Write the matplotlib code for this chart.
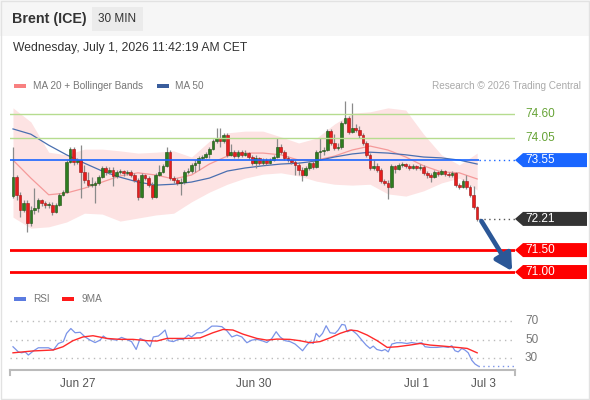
import matplotlib
matplotlib.use("Agg")
import matplotlib.pyplot as plt
import matplotlib.transforms as mtransforms
from matplotlib.patches import Polygon, Rectangle
import numpy as np

plt.rcParams['font.family'] = ['Liberation Sans', 'DejaVu Sans']

# 30 min candles, open of each bar = previous close
first_open = 72.73
close = [73.16, 72.75, 72.41, 72.57, 72.12, 72.41, 72.46, 72.64, 72.57, 72.53,
         72.53, 72.37, 72.53, 72.75, 72.82, 73.51, 73.80, 73.51, 73.55, 73.28,
         73.10, 72.98, 72.98, 73.03, 73.16, 73.37, 73.28, 73.32, 73.19, 73.28,
         73.30, 73.26, 73.28, 73.21, 73.10, 72.71, 73.21, 73.14, 72.98, 72.71,
         73.21, 73.28, 73.42, 73.73, 73.14, 73.10, 73.03, 73.05, 73.28, 73.30,
         73.44, 73.48, 73.60, 73.62, 73.69, 73.80, 73.98, 74.05, 73.98, 74.12,
         73.67, 73.73, 73.64, 73.73, 73.67, 73.71, 73.62, 73.48, 73.60, 73.48,
         73.55, 73.48, 73.55, 73.62, 73.85, 73.73, 73.60, 73.55, 73.51, 73.44,
         73.32, 73.21, 73.37, 73.48, 73.39, 73.73, 73.76, 73.78, 74.21, 73.94,
         73.83, 73.85, 74.40, 74.51, 74.19, 74.28, 74.24, 74.12, 73.94, 73.67,
         73.37, 73.42, 73.32, 73.07, 73.03, 72.94, 73.42, 73.35, 73.44, 73.46,
         73.42, 73.37, 73.42, 73.37, 73.39, 73.26, 73.21, 73.16, 73.28, 73.23,
         73.30, 73.23, 73.21, 73.26, 72.98, 72.94, 73.07, 72.94, 72.75, 72.48,
         72.21]
high = [73.85, 73.21, 72.82, 72.64, 72.64, 72.50, 72.91, 72.69, 72.66, 72.62,
        72.60, 72.60, 72.57, 72.80, 72.87, 73.55, 73.85, 73.85, 73.60, 73.89,
        73.44, 73.28, 73.16, 73.07, 73.21, 73.42, 73.42, 73.39, 73.39, 73.32,
        73.35, 73.32, 73.32, 73.32, 73.26, 73.14, 73.26, 73.23, 73.19, 73.05,
        73.26, 73.44, 73.46, 73.85, 73.78, 73.19, 73.14, 73.14, 73.32, 73.37,
        73.48, 73.55, 73.64, 73.67, 73.73, 73.85, 74.03, 74.28, 74.28, 74.17,
        74.17, 73.92, 73.78, 73.78, 73.78, 73.78, 73.73, 73.67, 73.67, 73.62,
        73.60, 73.60, 73.60, 73.67, 74.05, 73.92, 73.78, 73.64, 73.57, 73.55,
        73.51, 73.39, 73.42, 73.53, 73.53, 73.78, 74.05, 73.85, 74.26, 74.26,
        74.14, 73.94, 74.44, 74.90, 74.55, 74.85, 74.37, 74.33, 74.17, 73.98,
        73.71, 73.55, 73.48, 73.37, 73.12, 73.10, 73.46, 73.44, 73.48, 73.51,
        73.48, 73.46, 73.46, 73.44, 73.46, 73.44, 73.30, 73.26, 73.32, 73.30,
        73.35, 73.32, 73.28, 73.30, 73.28, 73.03, 73.12, 73.21, 72.98, 72.96,
        72.50]
low = [72.69, 72.64, 72.25, 72.37, 71.91, 72.05, 72.32, 72.37, 72.50, 72.46,
       72.46, 72.30, 72.34, 72.50, 72.73, 72.80, 73.48, 73.44, 73.46, 72.69,
       73.03, 72.94, 72.94, 72.57, 72.98, 73.14, 73.21, 73.23, 72.96, 73.14,
       73.23, 73.19, 73.21, 73.16, 73.05, 72.64, 72.69, 73.10, 72.94, 72.66,
       72.69, 73.19, 73.26, 73.39, 73.10, 73.03, 72.98, 72.75, 73.01, 73.23,
       73.26, 73.28, 73.32, 73.55, 73.60, 73.60, 73.78, 73.94, 73.85, 73.94,
       73.62, 73.64, 73.60, 73.60, 73.62, 73.64, 73.57, 73.44, 73.37, 73.44,
       73.44, 73.44, 73.46, 73.53, 73.60, 73.69, 73.55, 73.51, 73.46, 73.21,
       73.21, 73.07, 73.19, 73.32, 73.35, 73.37, 73.55, 73.67, 73.76, 73.89,
       73.78, 73.78, 73.80, 74.37, 74.14, 74.17, 74.19, 74.05, 73.89, 73.62,
       73.32, 73.32, 73.28, 73.03, 72.98, 72.66, 72.91, 73.26, 73.32, 73.39,
       73.37, 73.32, 73.35, 73.32, 73.32, 73.21, 73.14, 73.05, 73.14, 73.19,
       73.21, 73.19, 73.16, 73.16, 72.94, 72.89, 72.91, 72.89, 72.71, 72.44,
       72.16]

# indicators read every 5 bars
ind_pos = list(range(0, 131, 5))
ma20 = [73.55, 73.14, 72.76, 72.80, 72.91, 73.05, 73.19, 73.26, 73.21, 73.12,
        73.21, 73.46, 73.64, 73.71, 73.71, 73.67, 73.55, 73.55, 73.64, 73.78,
        73.87, 73.78, 73.62, 73.42, 73.28, 73.26, 73.12]
ma50 = [74.26, 74.14, 73.89, 73.67, 73.48, 73.30, 73.16, 73.05, 72.98, 73.00,
        73.05, 73.14, 73.30, 73.37, 73.42, 73.46, 73.48, 73.53, 73.62, 73.69,
        73.73, 73.71, 73.67, 73.62, 73.60, 73.55, 73.46]
bb_up = [74.74, 74.42, 73.73, 73.67, 73.80, 73.80, 73.76, 73.71, 73.73, 73.76,
         73.62, 73.98, 74.17, 74.21, 74.21, 74.08, 73.94, 74.05, 74.37, 74.62,
         74.65, 74.74, 74.69, 74.14, 73.67, 73.44, 73.71]
bb_low = [72.25, 72.00, 72.03, 72.14, 72.34, 72.32, 72.16, 72.23, 72.30, 72.34,
          72.60, 72.82, 73.00, 73.14, 73.23, 73.26, 73.19, 73.07, 73.00, 72.98,
          73.00, 72.78, 72.73, 72.85, 73.03, 73.14, 72.87]

rsi_pos = [0, 1.5, 2.4, 3.4, 4.3, 5.7, 7.1, 8.5, 9.9, 11.3, 12.7, 14.1, 15, 16.2,
           17.4, 18.8, 20.2, 21.6, 23, 24.4, 25.3, 26.2, 27.6, 29, 30.4, 31.8,
           33.2, 34.5, 35.6, 37, 38.4, 39.3, 40.7, 41.6, 42.6, 43.5, 44.9, 46.3,
           47.7, 49.1, 50, 51.5, 52.9, 54.3, 55.7, 57.1, 58.5, 59.9, 61.3, 62.7,
           64.1, 65.5, 66.9, 68.3, 69.7, 71.1, 72.5, 73.7, 74.8, 76.2, 77.6, 79,
           80.4, 81.1, 82.3, 83.2, 84.1, 84.9, 85.8, 86.7, 87.7, 88.8, 90.2, 91.1,
           92.1, 93, 93.6, 94.9, 96.3, 97.7, 98.9, 100, 100.9, 101.9, 103.3,
           104.2, 105.1, 106.1, 107.5, 108.9, 110.3, 111.7, 113.1, 114.5, 115.4,
           116.8, 118.7, 120.5, 121.9, 122.9, 123.8, 124.7, 125.7, 126.6, 127.5,
           128.5, 129.4, 130.3]
rsi = [42.5, 37, 36, 37, 33.6, 38, 41.4, 41.4, 41.4, 39, 46, 48, 56.8, 62,
       57.5, 58, 53, 49.6, 47, 49.6, 54, 51.4, 50.4, 49.6, 52.5, 50.4,
       48, 39.6, 51.4, 49, 42.5, 53, 54, 56.8, 60.4, 49, 48, 50.4,
       50.4, 55, 53, 57.5, 57.5, 60.4, 64.6, 64.6, 64, 59.6, 53, 55,
       53, 46.8, 49.6, 50.4, 49, 47, 51.4, 58.6, 53, 49, 48, 45.4,
       40.7, 38.2, 44.3, 48, 46, 56.8, 53, 56.8, 65, 57.5, 56.8, 60.4,
       66.4, 65.7, 58.6, 60.4, 56, 49.6, 44.3, 40.7, 43.2, 39.6, 38.2,
       39.6, 37, 45.4, 46.8, 46.8, 46, 47, 46, 46.8, 42.5,
       41.8, 41.8, 42.5, 41.8, 43.6, 38.2, 37, 40.7, 38.9, 36,
       28, 24, 21.8]
rsi_ma_pos = [0, 5.6, 11.2, 14, 16.8, 19.6, 22.4, 26.3, 30, 33.6, 37.5, 40.3,
              43.1, 48.7, 52.4, 56, 58.8, 61.6, 64.4, 68.3, 71.1, 73.9, 77.5,
              80.3, 83.2, 86, 88.8, 91.6, 94.4, 96.4, 99.2, 102, 104.8, 107.6,
              111.2, 114, 116.8, 120.4, 124.4, 127.2, 130]
rsi_ma = [36, 38, 39, 42.5, 49, 53, 54.3, 51.4, 50.4, 50.4, 49, 48.6,
          51.4, 51.4, 52, 57.5, 61, 60.4, 56, 51.4, 49.6, 50.7, 50.4,
          49, 46.8, 48, 52, 56.8, 60.4, 59.6, 55, 49, 41.8, 42.5,
          44.3, 46, 44.3, 43.2, 41.8, 40.7, 36]

resist_levels = [74.60, 74.05]
pivot = 73.55
support_levels = [71.50, 71.00]
last_price = 72.21

date_ticks = [18.2, 67.5, 112.9, 131.9]
date_labels = ["Jun 27", "Jun 30", "Jul 1", "Jul 3"]

W, H = 590, 400
fig = plt.figure(figsize=(W / 100, H / 100), dpi=100)
fig.patch.set_facecolor('white')

def fx(px):
    return px / W

def fy(py):
    return 1 - py / H

# header
fig.patches.append(Rectangle((0, fy(36)), 1, 36 / H, transform=fig.transFigure,
                             fc='#f6f6f6', ec='none', zorder=0))
fig.patches.append(Rectangle((fx(92), fy(31)), fx(51), 24 / H, transform=fig.transFigure,
                             fc='#ebebeb', ec='none', zorder=1))
fig.patches.append(Rectangle((0.002, 0.002), 0.996, 0.996, transform=fig.transFigure,
                             fill=False, ec='#e2e2e2', lw=1, zorder=2))
fig.text(fx(12), fy(19), "Brent (ICE)", fontsize=10.3, fontweight='bold', color='#333333', va='center')
fig.text(fx(117.5), fy(19), "30 MIN", fontsize=8.5, color='#333333', va='center', ha='center')
fig.text(fx(13), fy(48), "Wednesday, July 1, 2026 11:42:19 AM CET", fontsize=8.7,
         color='#333333', va='center')

# legends
fig.patches.append(Rectangle((fx(14), fy(88)), fx(12), 4 / H, transform=fig.transFigure,
                             fc='#f88080', ec='none'))
fig.text(fx(33), fy(86), "MA 20 + Bollinger Bands", fontsize=7.2, color='#777777', va='center')
fig.patches.append(Rectangle((fx(157), fy(88)), fx(12), 4 / H, transform=fig.transFigure,
                             fc='#3a5d9c', ec='none'))
fig.text(fx(175), fy(86), "MA 50", fontsize=7.2, color='#777777', va='center')
fig.text(fx(581), fy(86), "Research \u00a9 2026 Trading Central", fontsize=7.2,
         color='#aaaaaa', va='center', ha='right')

fig.patches.append(Rectangle((fx(14), fy(301)), fx(12), 4 / H, transform=fig.transFigure,
                             fc='#5b7be0', ec='none'))
fig.text(fx(33), fy(299), "RSI", fontsize=7.2, color='#777777', va='center')
fig.patches.append(Rectangle((fx(62), fy(301)), fx(12), 4 / H, transform=fig.transFigure,
                             fc='#ff1a1a', ec='none'))
fig.text(fx(82), fy(299), "9MA", fontsize=7.2, color='#777777', va='center')

# price panel
ax = fig.add_axes([fx(10), fy(283), fx(505), 188 / H])
xmin, xmax = -0.84, 140.6
ax.set_xlim(xmin, xmax)
ax.set_ylim(70.75, 75.033)
ax.axis('off')

ax.fill_between(ind_pos, bb_low, bb_up, color='#fde3e3', lw=0, zorder=1)
ax.plot(ind_pos, ma20, color='#f59a9a', lw=0.9, zorder=2)
ax.plot(ind_pos, ma50, color='#4a6fb0', lw=0.9, zorder=2)

c = np.array(close)
o = np.array([first_open] + close[:-1])
x = np.arange(len(c))
up = c >= o
ax.vlines(x, low, high, color='#8a8a8a', lw=0.9, zorder=3)
body_col = np.where(up, '#2e7d1f', '#e61e1e')
edge_col = np.where(up, '#1d4d14', '#9e1414')
ax.bar(x, np.maximum(np.abs(c - o), 0.015), bottom=np.minimum(o, c), width=0.75,
       color=body_col, edgecolor=edge_col, lw=0.4, zorder=4)

last_x = len(c) - 0.5
for lv in resist_levels:
    ax.axhline(lv, color='#b6dc8f', lw=1, zorder=5)
ax.hlines(pivot, xmin, last_x, color='#1a66ff', lw=1.2, zorder=5)
ax.hlines(pivot, last_x, xmax, color='#1a66ff', lw=1, linestyles=(0, (1, 2.5)), zorder=5)
for lv in support_levels:
    ax.axhline(lv, color='#ff0000', lw=2, zorder=5)
ax.hlines(last_price, last_x, xmax, color='#555555', lw=1, linestyles=(0, (1, 2.5)), zorder=5)

ax.annotate('', xy=(139.8, support_levels[1] + 0.02), xytext=(len(c) + 0.2, last_price - 0.05),
            arrowprops=dict(arrowstyle='-|>,head_width=0.55,head_length=1.0',
                            color='#2b5797', lw=3.4, shrinkA=0, shrinkB=0), zorder=6)

# level tags on the right
tr = mtransforms.blended_transform_factory(ax.transAxes, ax.transData)
tag_w = 72 / 505
tip = 8 / 505
tag_h = 14 / 43.9
for lv in resist_levels:
    ax.text(1 + 10 / 505, lv, f"{lv:.2f}", transform=tr, color='#66a336', fontsize=8.5,
            va='center', clip_on=False)
for lv, col in [(pivot, '#1a66ff'), (last_price, '#333333'),
                (support_levels[0], '#ff0000'), (support_levels[1], '#ff0000')]:
    pts = [(1, lv), (1 + tip, lv + tag_h / 2), (1 + tag_w, lv + tag_h / 2),
           (1 + tag_w, lv - tag_h / 2), (1 + tip, lv - tag_h / 2)]
    ax.add_patch(Polygon(pts, closed=True, transform=tr, fc=col, ec='none', clip_on=False))
    ax.text(1 + 10 / 505, lv, f"{lv:.2f}", transform=tr, color='white', fontsize=8.5,
            va='center', clip_on=False)

# RSI panel
ax2 = fig.add_axes([fx(10), fy(370), fx(505), 65 / H])
ax2.set_xlim(xmin, xmax)
ax2.set_ylim(17.6, 87.2)
for s in ['top', 'right', 'left']:
    ax2.spines[s].set_visible(False)
ax2.spines['bottom'].set_color('#bbbbbb')
ax2.spines['bottom'].set_linewidth(1.5)
for lv in [70, 50, 30]:
    ax2.axhline(lv, color='#bbbbbb', lw=1, linestyle=(0, (1, 3)))
    ax2.text(1 + 10 / 505, lv, str(lv), transform=mtransforms.blended_transform_factory(
        ax2.transAxes, ax2.transData), color='#777777', fontsize=8.5, va='center', clip_on=False)
ax2.plot(rsi_pos, rsi, color='#7a93e8', lw=0.9)
ax2.hlines(rsi[-1], rsi_pos[-1], xmax, color='#7a93e8', lw=1, linestyles=(0, (1, 2.5)))
ax2.plot(rsi_ma_pos, rsi_ma, color='#ff2a2a', lw=1)
ax2.plot([0, 0], [0, -0.08], transform=ax2.transAxes, color='#bbbbbb', lw=1.5, clip_on=False)
ax2.plot([1, 1], [0, -0.08], transform=ax2.transAxes, color='#bbbbbb', lw=1.5, clip_on=False)
ax2.set_yticks([])
ax2.set_xticks(date_ticks)
ax2.set_xticklabels(date_labels)
ax2.tick_params(axis='x', length=0, pad=6, labelsize=8.5, labelcolor='#555555')

plt.savefig("out.png", dpi=100)
